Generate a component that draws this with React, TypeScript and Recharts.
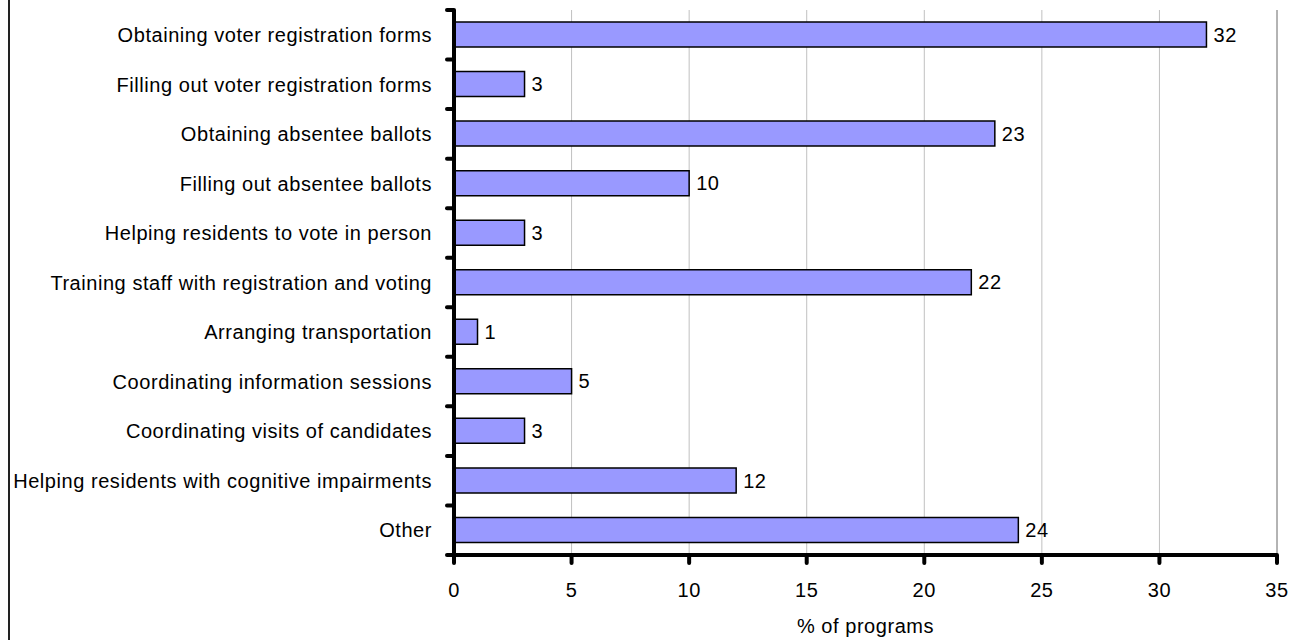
import {
  BarChart,
  Bar,
  XAxis,
  YAxis,
  CartesianGrid,
  LabelList,
  ReferenceLine,
} from 'recharts';

const categories = [
  'Obtaining voter registration forms',
  'Filling out voter registration forms',
  'Obtaining absentee ballots',
  'Filling out absentee ballots',
  'Helping residents to vote in person',
  'Training staff with registration and voting',
  'Arranging transportation',
  'Coordinating information sessions',
  'Coordinating visits of candidates',
  'Helping residents with cognitive impairments',
  'Other',
];
const values = [32, 3, 23, 10, 3, 22, 1, 5, 3, 12, 24];
const xTicks = [0, 5, 10, 15, 20, 25, 30, 35];

const data = categories.map((name, i) => ({ name, value: values[i] }));

const W = 1299;
const H = 640;
const Y_AXIS_W = 454;
const TOP = 10;
const X_AXIS_H = 85;
const BAND = (H - TOP - X_AXIS_H) / categories.length;
const FONT = '"Liberation Sans", Arial, sans-serif';

function CategoryTick(props: any) {
  const { y, payload, index } = props;
  const ax = Y_AXIS_W;
  return (
    <g>
      <text x={ax - 22} y={y} dy="0.36em" textAnchor="end" fontSize={20} fill="#000">
        {payload.value}
      </text>
      <line x1={ax - 7} x2={ax} y1={y - BAND / 2} y2={y - BAND / 2} stroke="#000" strokeWidth={4} strokeLinecap="round" />
      {index === categories.length - 1 && (
        <line x1={ax - 7} x2={ax} y1={y + BAND / 2} y2={y + BAND / 2} stroke="#000" strokeWidth={4} strokeLinecap="round" />
      )}
    </g>
  );
}

export default function App() {
  return (
    <div
      style={{
        position: 'absolute',
        left: 0,
        top: 0,
        width: W,
        height: H,
        background: '#fff',
        fontFamily: FONT,
        letterSpacing: '0.55px',
      }}
    >
      <div style={{ position: 'absolute', left: 8, top: 0, width: 2, height: H, background: '#222' }} />
      <BarChart
        width={W}
        height={H}
        data={data}
        layout="vertical"
        margin={{ top: TOP, right: 22, bottom: 0, left: 0 }}
      >
        <CartesianGrid horizontal={false} stroke="#c0c0c0" strokeWidth={1} />
        <XAxis
          xAxisId="top"
          orientation="top"
          type="number"
          domain={[0, 35]}
          ticks={xTicks}
          height={0}
          tick={false}
          tickLine={false}
          axisLine={{ stroke: '#999', strokeWidth: 1 }}
        />
        <XAxis
          type="number"
          domain={[0, 35]}
          ticks={xTicks}
          height={X_AXIS_H}
          tickSize={8}
          tickMargin={20}
          tick={{ fontSize: 20, fill: '#000' }}
          tickLine={{ stroke: '#000', strokeWidth: 4, strokeLinecap: 'round' }}
          axisLine={{ stroke: '#000', strokeWidth: 4 }}
          label={{ value: '% of programs', position: 'insideBottom', offset: 7, fontSize: 20, fill: '#000' }}
        />
        <ReferenceLine x={35} stroke="#888" strokeWidth={1} />
        <Bar
          dataKey="value"
          fill="#9999ff"
          stroke="#000"
          strokeWidth={1.5}
          barSize={25}
          isAnimationActive={false}
        >
          <LabelList dataKey="value" position="right" offset={7} fontSize={20} fill="#000" />
        </Bar>
        <YAxis
          type="category"
          dataKey="name"
          width={Y_AXIS_W}
          interval={0}
          tickLine={false}
          tickSize={0}
          tick={<CategoryTick />}
          axisLine={{ stroke: '#000', strokeWidth: 4 }}
        />
      </BarChart>
    </div>
  );
}
